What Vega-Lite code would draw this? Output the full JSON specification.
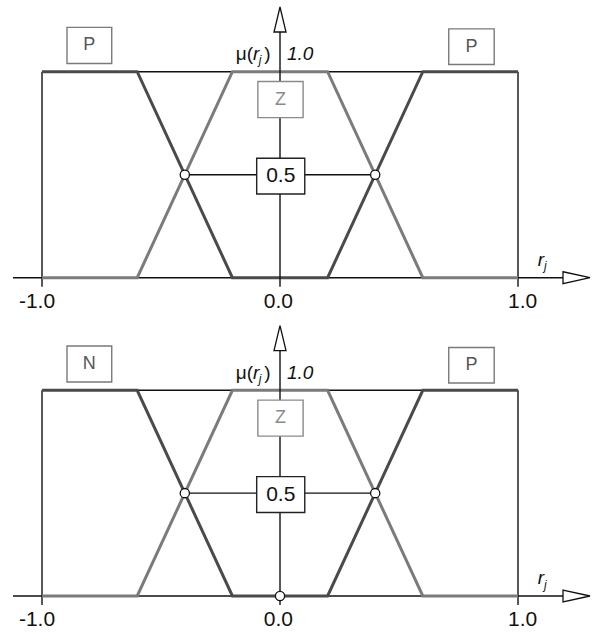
{
  "$schema": "https://vega.github.io/schema/vega-lite/v6.json",
  "background": "white",
  "padding": 0,
  "spacing": 0,
  "config": {"view": {"stroke": null}, "text": {"font": "Liberation Sans"}},
  "datasets": {
    "frame": [
      {"x": -1, "y": 1, "x2": 1, "y2": 1},
      {"x": -1, "y": 0, "x2": -1, "y2": 1},
      {"x": 1, "y": 0, "x2": 1, "y2": 1},
      {"x": -1.122, "y": 0, "x2": 1.19, "y2": 0},
      {"x": -1, "y": -0.044, "x2": -1, "y2": 0},
      {"x": 1, "y": -0.044, "x2": 1, "y2": 0},
      {"x": -0.4, "y": 0.5, "x2": 0.4, "y2": 0.5}
    ],
    "yaxis": [
      {"x": 0, "y": -0.044, "x2": 0, "y2": 1.193}
    ],
    "fn": [
      {"fn": "L", "o": 0, "x": -1, "y": 1},
      {"fn": "L", "o": 1, "x": -0.6, "y": 1},
      {"fn": "L", "o": 2, "x": -0.2, "y": 0},
      {"fn": "L", "o": 3, "x": 0, "y": 0},
      {"fn": "Z", "o": 0, "x": -1, "y": 0},
      {"fn": "Z", "o": 1, "x": -0.6, "y": 0},
      {"fn": "Z", "o": 2, "x": -0.2, "y": 1},
      {"fn": "Z", "o": 3, "x": 0.2, "y": 1},
      {"fn": "Z", "o": 4, "x": 0.6, "y": 0},
      {"fn": "Z", "o": 5, "x": 1, "y": 0},
      {"fn": "R", "o": 0, "x": 0, "y": 0},
      {"fn": "R", "o": 1, "x": 0.2, "y": 0},
      {"fn": "R", "o": 2, "x": 0.6, "y": 1},
      {"fn": "R", "o": 3, "x": 1, "y": 1}
    ],
    "boxes": [
      {"role": "fn", "x": -0.895, "x2": -0.707, "y": 1.04, "y2": 1.215},
      {"role": "fn", "x": 0.709, "x2": 0.9, "y": 1.035, "y2": 1.208},
      {"role": "z", "x": -0.093, "x2": 0.097, "y": 0.777, "y2": 0.952},
      {"role": "val", "x": -0.098, "x2": 0.104, "y": 0.406, "y2": 0.58}
    ],
    "dots": [
      {"panel": "both", "x": -0.4, "y": 0.5},
      {"panel": "both", "x": 0.4, "y": 0.5},
      {"panel": "bottom", "x": 0, "y": 0}
    ],
    "arrows": [
      {"dir": "x", "x": 1.2458, "y": 0},
      {"dir": "y", "x": 0, "y": 1.2534}
    ],
    "texts": [
      {"panel": "both", "role": "tick", "text": "-1.0", "x": -1.021, "y": -0.148},
      {"panel": "both", "role": "tick", "text": "0.0", "x": -0.007, "y": -0.148},
      {"panel": "both", "role": "tick", "text": "1.0", "x": 1.0197, "y": -0.148},
      {"panel": "top", "role": "fnlabel", "text": "P", "x": -0.801, "y": 1.1275},
      {"panel": "bottom", "role": "fnlabel", "text": "N", "x": -0.801, "y": 1.1275},
      {"panel": "both", "role": "fnlabel", "text": "P", "x": 0.8045, "y": 1.1215},
      {"panel": "both", "role": "zlabel", "text": "Z", "x": 0.002, "y": 0.8645},
      {"panel": "both", "role": "val", "text": "0.5", "x": 0.003, "y": 0.493},
      {"panel": "both", "role": "one", "text": "1.0", "x": 0.029, "y": 1.057},
      {"panel": "both", "role": "mu", "text": "μ(", "x": -0.186, "y": 1.057},
      {"panel": "both", "role": "r", "text": "r", "x": -0.1134, "y": 1.057},
      {"panel": "both", "role": "j", "text": "j", "x": -0.0892, "y": 1.036},
      {"panel": "both", "role": "mu", "text": ")", "x": -0.066, "y": 1.057},
      {"panel": "both", "role": "r", "text": "r", "x": 1.083, "y": 0.058},
      {"panel": "both", "role": "j", "text": "j", "x": 1.109, "y": 0.036}
    ]
  },
  "vconcat": [
    {
      "width": 595,
      "height": 316,
      "layer": [
        {"data": {"name": "frame"}, "mark": {"type": "rule", "color": "#111", "strokeWidth": 1.4},
         "encoding": {
           "x": {"field": "x", "type": "quantitative", "scale": {"domain": [-1.1765, 1.3235], "nice": false, "zero": false}, "axis": null},
           "x2": {"field": "x2"},
           "y": {"field": "y", "type": "quantitative", "scale": {"domain": [-0.186, 1.348], "nice": false, "zero": false}, "axis": null},
           "y2": {"field": "y2"}}},
        {"data": {"name": "fn"}, "mark": {"type": "line", "strokeWidth": 3},
         "encoding": {
           "x": {"field": "x", "type": "quantitative", "scale": {"domain": [-1.1765, 1.3235], "nice": false, "zero": false}, "axis": null},
           "y": {"field": "y", "type": "quantitative", "scale": {"domain": [-0.186, 1.348], "nice": false, "zero": false}, "axis": null},
           "order": {"field": "o"},
           "color": {"field": "fn", "type": "nominal", "scale": {"domain": ["L", "Z", "R"], "range": ["#4a4a4a", "#7b7b7b", "#4a4a4a"]}, "legend": null}}},
        {"data": {"name": "yaxis"}, "mark": {"type": "rule", "color": "#111", "strokeWidth": 1.4},
         "encoding": {
           "x": {"field": "x", "type": "quantitative", "scale": {"domain": [-1.1765, 1.3235], "nice": false, "zero": false}, "axis": null},
           "x2": {"field": "x2"},
           "y": {"field": "y", "type": "quantitative", "scale": {"domain": [-0.186, 1.348], "nice": false, "zero": false}, "axis": null},
           "y2": {"field": "y2"}}},
        {"data": {"name": "boxes"}, "mark": {"type": "rect", "fill": "white", "strokeWidth": 1.4},
         "encoding": {
           "x": {"field": "x", "type": "quantitative", "scale": {"domain": [-1.1765, 1.3235], "nice": false, "zero": false}, "axis": null},
           "x2": {"field": "x2"},
           "y": {"field": "y", "type": "quantitative", "scale": {"domain": [-0.186, 1.348], "nice": false, "zero": false}, "axis": null},
           "y2": {"field": "y2"},
           "stroke": {"field": "role", "type": "nominal", "scale": {"domain": ["fn", "z", "val"], "range": ["#7a7a7a", "#8a8a8a", "#222222"]}, "legend": null}}},
        {"data": {"name": "dots"}, "transform": [{"filter": "datum.panel == 'both' || datum.panel == 'top'"}],
         "mark": {"type": "point", "shape": "circle", "filled": true, "fill": "white", "stroke": "#111", "strokeWidth": 1.3, "size": 85, "opacity": 1},
         "encoding": {
           "x": {"field": "x", "type": "quantitative", "scale": {"domain": [-1.1765, 1.3235], "nice": false, "zero": false}, "axis": null},
           "y": {"field": "y", "type": "quantitative", "scale": {"domain": [-0.186, 1.348], "nice": false, "zero": false}, "axis": null}}},
        {"data": {"name": "arrows"}, "transform": [{"filter": "datum.dir == 'x'"}],
         "mark": {"type": "point", "shape": "M-1,-0.44L1,0L-1,0.44Z", "filled": true, "fill": "white", "stroke": "#111", "strokeWidth": 1.3, "size": 729, "opacity": 1},
         "encoding": {
           "x": {"field": "x", "type": "quantitative", "scale": {"domain": [-1.1765, 1.3235], "nice": false, "zero": false}, "axis": null},
           "y": {"field": "y", "type": "quantitative", "scale": {"domain": [-0.186, 1.348], "nice": false, "zero": false}, "axis": null}}},
        {"data": {"name": "arrows"}, "transform": [{"filter": "datum.dir == 'y'"}],
         "mark": {"type": "point", "shape": "M0,-1L0.48,1L-0.48,1Z", "filled": true, "fill": "white", "stroke": "#111", "strokeWidth": 1.3, "size": 625, "opacity": 1},
         "encoding": {
           "x": {"field": "x", "type": "quantitative", "scale": {"domain": [-1.1765, 1.3235], "nice": false, "zero": false}, "axis": null},
           "y": {"field": "y", "type": "quantitative", "scale": {"domain": [-0.186, 1.348], "nice": false, "zero": false}, "axis": null}}},
        {"data": {"name": "texts"}, "transform": [{"filter": "(datum.panel == 'both' || datum.panel == 'top') && datum.role == 'tick'"}],
         "mark": {"type": "text", "fontSize": 21, "color": "#111", "align": "center", "baseline": "alphabetic"},
         "encoding": {
           "x": {"field": "x", "type": "quantitative", "scale": {"domain": [-1.1765, 1.3235], "nice": false, "zero": false}, "axis": null},
           "y": {"field": "y", "type": "quantitative", "scale": {"domain": [-0.186, 1.348], "nice": false, "zero": false}, "axis": null},
           "text": {"field": "text"}}},
        {"data": {"name": "texts"}, "transform": [{"filter": "(datum.panel == 'both' || datum.panel == 'top') && datum.role == 'fnlabel'"}],
         "mark": {"type": "text", "fontSize": 18, "color": "#555", "align": "center", "baseline": "middle"},
         "encoding": {
           "x": {"field": "x", "type": "quantitative", "scale": {"domain": [-1.1765, 1.3235], "nice": false, "zero": false}, "axis": null},
           "y": {"field": "y", "type": "quantitative", "scale": {"domain": [-0.186, 1.348], "nice": false, "zero": false}, "axis": null},
           "text": {"field": "text"}}},
        {"data": {"name": "texts"}, "transform": [{"filter": "(datum.panel == 'both' || datum.panel == 'top') && datum.role == 'zlabel'"}],
         "mark": {"type": "text", "fontSize": 18, "color": "#8a8a8a", "align": "center", "baseline": "middle"},
         "encoding": {
           "x": {"field": "x", "type": "quantitative", "scale": {"domain": [-1.1765, 1.3235], "nice": false, "zero": false}, "axis": null},
           "y": {"field": "y", "type": "quantitative", "scale": {"domain": [-0.186, 1.348], "nice": false, "zero": false}, "axis": null},
           "text": {"field": "text"}}},
        {"data": {"name": "texts"}, "transform": [{"filter": "(datum.panel == 'both' || datum.panel == 'top') && datum.role == 'val'"}],
         "mark": {"type": "text", "fontSize": 21, "color": "#111", "align": "center", "baseline": "middle"},
         "encoding": {
           "x": {"field": "x", "type": "quantitative", "scale": {"domain": [-1.1765, 1.3235], "nice": false, "zero": false}, "axis": null},
           "y": {"field": "y", "type": "quantitative", "scale": {"domain": [-0.186, 1.348], "nice": false, "zero": false}, "axis": null},
           "text": {"field": "text"}}},
        {"data": {"name": "texts"}, "transform": [{"filter": "(datum.panel == 'both' || datum.panel == 'top') && (datum.role == 'one' || datum.role == 'r')"}],
         "mark": {"type": "text", "fontSize": 19, "fontStyle": "italic", "color": "#111", "align": "left", "baseline": "alphabetic"},
         "encoding": {
           "x": {"field": "x", "type": "quantitative", "scale": {"domain": [-1.1765, 1.3235], "nice": false, "zero": false}, "axis": null},
           "y": {"field": "y", "type": "quantitative", "scale": {"domain": [-0.186, 1.348], "nice": false, "zero": false}, "axis": null},
           "text": {"field": "text"}}},
        {"data": {"name": "texts"}, "transform": [{"filter": "(datum.panel == 'both' || datum.panel == 'top') && datum.role == 'mu'"}],
         "mark": {"type": "text", "fontSize": 19, "color": "#111", "align": "left", "baseline": "alphabetic"},
         "encoding": {
           "x": {"field": "x", "type": "quantitative", "scale": {"domain": [-1.1765, 1.3235], "nice": false, "zero": false}, "axis": null},
           "y": {"field": "y", "type": "quantitative", "scale": {"domain": [-0.186, 1.348], "nice": false, "zero": false}, "axis": null},
           "text": {"field": "text"}}},
        {"data": {"name": "texts"}, "transform": [{"filter": "(datum.panel == 'both' || datum.panel == 'top') && datum.role == 'j'"}],
         "mark": {"type": "text", "fontSize": 12, "fontStyle": "italic", "color": "#111", "align": "left", "baseline": "alphabetic"},
         "encoding": {
           "x": {"field": "x", "type": "quantitative", "scale": {"domain": [-1.1765, 1.3235], "nice": false, "zero": false}, "axis": null},
           "y": {"field": "y", "type": "quantitative", "scale": {"domain": [-0.186, 1.348], "nice": false, "zero": false}, "axis": null},
           "text": {"field": "text"}}}
      ]
    },
    {
      "width": 595,
      "height": 316,
      "layer": [
        {"data": {"name": "frame"}, "mark": {"type": "rule", "color": "#111", "strokeWidth": 1.4},
         "encoding": {
           "x": {"field": "x", "type": "quantitative", "scale": {"domain": [-1.1765, 1.3235], "nice": false, "zero": false}, "axis": null},
           "x2": {"field": "x2"},
           "y": {"field": "y", "type": "quantitative", "scale": {"domain": [-0.175, 1.361], "nice": false, "zero": false}, "axis": null},
           "y2": {"field": "y2"}}},
        {"data": {"name": "fn"}, "mark": {"type": "line", "strokeWidth": 3},
         "encoding": {
           "x": {"field": "x", "type": "quantitative", "scale": {"domain": [-1.1765, 1.3235], "nice": false, "zero": false}, "axis": null},
           "y": {"field": "y", "type": "quantitative", "scale": {"domain": [-0.175, 1.361], "nice": false, "zero": false}, "axis": null},
           "order": {"field": "o"},
           "color": {"field": "fn", "type": "nominal", "scale": {"domain": ["L", "Z", "R"], "range": ["#4a4a4a", "#7b7b7b", "#4a4a4a"]}, "legend": null}}},
        {"data": {"name": "yaxis"}, "mark": {"type": "rule", "color": "#111", "strokeWidth": 1.4},
         "encoding": {
           "x": {"field": "x", "type": "quantitative", "scale": {"domain": [-1.1765, 1.3235], "nice": false, "zero": false}, "axis": null},
           "x2": {"field": "x2"},
           "y": {"field": "y", "type": "quantitative", "scale": {"domain": [-0.175, 1.361], "nice": false, "zero": false}, "axis": null},
           "y2": {"field": "y2"}}},
        {"data": {"name": "boxes"}, "mark": {"type": "rect", "fill": "white", "strokeWidth": 1.4},
         "encoding": {
           "x": {"field": "x", "type": "quantitative", "scale": {"domain": [-1.1765, 1.3235], "nice": false, "zero": false}, "axis": null},
           "x2": {"field": "x2"},
           "y": {"field": "y", "type": "quantitative", "scale": {"domain": [-0.175, 1.361], "nice": false, "zero": false}, "axis": null},
           "y2": {"field": "y2"},
           "stroke": {"field": "role", "type": "nominal", "scale": {"domain": ["fn", "z", "val"], "range": ["#7a7a7a", "#8a8a8a", "#222222"]}, "legend": null}}},
        {"data": {"name": "dots"}, "transform": [{"filter": "datum.panel == 'both' || datum.panel == 'bottom'"}],
         "mark": {"type": "point", "shape": "circle", "filled": true, "fill": "white", "stroke": "#111", "strokeWidth": 1.3, "size": 85, "opacity": 1},
         "encoding": {
           "x": {"field": "x", "type": "quantitative", "scale": {"domain": [-1.1765, 1.3235], "nice": false, "zero": false}, "axis": null},
           "y": {"field": "y", "type": "quantitative", "scale": {"domain": [-0.175, 1.361], "nice": false, "zero": false}, "axis": null}}},
        {"data": {"name": "arrows"}, "transform": [{"filter": "datum.dir == 'x'"}],
         "mark": {"type": "point", "shape": "M-1,-0.44L1,0L-1,0.44Z", "filled": true, "fill": "white", "stroke": "#111", "strokeWidth": 1.3, "size": 729, "opacity": 1},
         "encoding": {
           "x": {"field": "x", "type": "quantitative", "scale": {"domain": [-1.1765, 1.3235], "nice": false, "zero": false}, "axis": null},
           "y": {"field": "y", "type": "quantitative", "scale": {"domain": [-0.175, 1.361], "nice": false, "zero": false}, "axis": null}}},
        {"data": {"name": "arrows"}, "transform": [{"filter": "datum.dir == 'y'"}],
         "mark": {"type": "point", "shape": "M0,-1L0.48,1L-0.48,1Z", "filled": true, "fill": "white", "stroke": "#111", "strokeWidth": 1.3, "size": 625, "opacity": 1},
         "encoding": {
           "x": {"field": "x", "type": "quantitative", "scale": {"domain": [-1.1765, 1.3235], "nice": false, "zero": false}, "axis": null},
           "y": {"field": "y", "type": "quantitative", "scale": {"domain": [-0.175, 1.361], "nice": false, "zero": false}, "axis": null}}},
        {"data": {"name": "texts"}, "transform": [{"filter": "(datum.panel == 'both' || datum.panel == 'bottom') && datum.role == 'tick'"}],
         "mark": {"type": "text", "fontSize": 21, "color": "#111", "align": "center", "baseline": "alphabetic"},
         "encoding": {
           "x": {"field": "x", "type": "quantitative", "scale": {"domain": [-1.1765, 1.3235], "nice": false, "zero": false}, "axis": null},
           "y": {"field": "y", "type": "quantitative", "scale": {"domain": [-0.175, 1.361], "nice": false, "zero": false}, "axis": null},
           "text": {"field": "text"}}},
        {"data": {"name": "texts"}, "transform": [{"filter": "(datum.panel == 'both' || datum.panel == 'bottom') && datum.role == 'fnlabel'"}],
         "mark": {"type": "text", "fontSize": 18, "color": "#555", "align": "center", "baseline": "middle"},
         "encoding": {
           "x": {"field": "x", "type": "quantitative", "scale": {"domain": [-1.1765, 1.3235], "nice": false, "zero": false}, "axis": null},
           "y": {"field": "y", "type": "quantitative", "scale": {"domain": [-0.175, 1.361], "nice": false, "zero": false}, "axis": null},
           "text": {"field": "text"}}},
        {"data": {"name": "texts"}, "transform": [{"filter": "(datum.panel == 'both' || datum.panel == 'bottom') && datum.role == 'zlabel'"}],
         "mark": {"type": "text", "fontSize": 18, "color": "#8a8a8a", "align": "center", "baseline": "middle"},
         "encoding": {
           "x": {"field": "x", "type": "quantitative", "scale": {"domain": [-1.1765, 1.3235], "nice": false, "zero": false}, "axis": null},
           "y": {"field": "y", "type": "quantitative", "scale": {"domain": [-0.175, 1.361], "nice": false, "zero": false}, "axis": null},
           "text": {"field": "text"}}},
        {"data": {"name": "texts"}, "transform": [{"filter": "(datum.panel == 'both' || datum.panel == 'bottom') && datum.role == 'val'"}],
         "mark": {"type": "text", "fontSize": 21, "color": "#111", "align": "center", "baseline": "middle"},
         "encoding": {
           "x": {"field": "x", "type": "quantitative", "scale": {"domain": [-1.1765, 1.3235], "nice": false, "zero": false}, "axis": null},
           "y": {"field": "y", "type": "quantitative", "scale": {"domain": [-0.175, 1.361], "nice": false, "zero": false}, "axis": null},
           "text": {"field": "text"}}},
        {"data": {"name": "texts"}, "transform": [{"filter": "(datum.panel == 'both' || datum.panel == 'bottom') && (datum.role == 'one' || datum.role == 'r')"}],
         "mark": {"type": "text", "fontSize": 19, "fontStyle": "italic", "color": "#111", "align": "left", "baseline": "alphabetic"},
         "encoding": {
           "x": {"field": "x", "type": "quantitative", "scale": {"domain": [-1.1765, 1.3235], "nice": false, "zero": false}, "axis": null},
           "y": {"field": "y", "type": "quantitative", "scale": {"domain": [-0.175, 1.361], "nice": false, "zero": false}, "axis": null},
           "text": {"field": "text"}}},
        {"data": {"name": "texts"}, "transform": [{"filter": "(datum.panel == 'both' || datum.panel == 'bottom') && datum.role == 'mu'"}],
         "mark": {"type": "text", "fontSize": 19, "color": "#111", "align": "left", "baseline": "alphabetic"},
         "encoding": {
           "x": {"field": "x", "type": "quantitative", "scale": {"domain": [-1.1765, 1.3235], "nice": false, "zero": false}, "axis": null},
           "y": {"field": "y", "type": "quantitative", "scale": {"domain": [-0.175, 1.361], "nice": false, "zero": false}, "axis": null},
           "text": {"field": "text"}}},
        {"data": {"name": "texts"}, "transform": [{"filter": "(datum.panel == 'both' || datum.panel == 'bottom') && datum.role == 'j'"}],
         "mark": {"type": "text", "fontSize": 12, "fontStyle": "italic", "color": "#111", "align": "left", "baseline": "alphabetic"},
         "encoding": {
           "x": {"field": "x", "type": "quantitative", "scale": {"domain": [-1.1765, 1.3235], "nice": false, "zero": false}, "axis": null},
           "y": {"field": "y", "type": "quantitative", "scale": {"domain": [-0.175, 1.361], "nice": false, "zero": false}, "axis": null},
           "text": {"field": "text"}}}
      ]
    }
  ]
}
